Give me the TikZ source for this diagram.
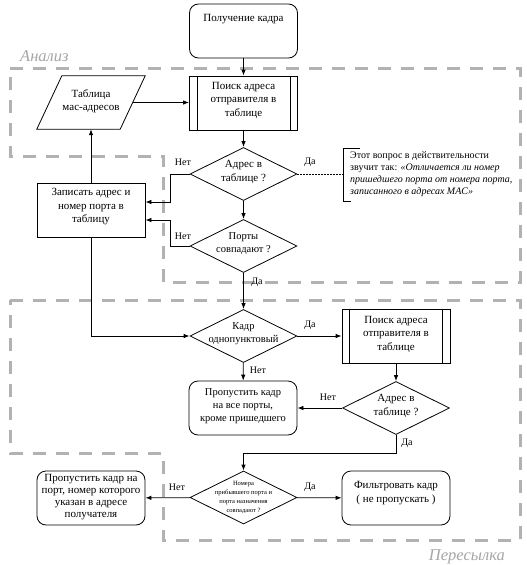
\documentclass[tikz,border=0pt]{standalone}
\usepackage{fontspec}
\setmainfont{Liberation Serif}
\usetikzlibrary{shapes.geometric,arrows.meta}
\tikzset{
 base/.style={draw, line width=0.8pt, minimum width=108pt, minimum height=54pt, inner sep=0pt, fill=white},
 rbox/.style={base, rounded corners=9pt},
 pbox/.style={base},
 dia/.style={draw, diamond, line width=0.8pt, minimum width=107pt, minimum height=53pt, inner sep=0pt, fill=white},
 txt/.style={font=\fontsize{11}{13.5}\selectfont, align=center, inner sep=0pt},
 midtxt/.style={font=\fontsize{10.5}{13}\selectfont, align=center, inner sep=0pt},
 smalltxt/.style={font=\fontsize{6.5}{9}\selectfont, align=center, inner sep=0pt},
 bigtxt/.style={font=\fontsize{11}{12}\selectfont, align=center, inner sep=0pt},
 notetxt/.style={font=\fontsize{10}{12}\selectfont, align=left, inner sep=0pt, anchor=north west},
 lab/.style={font=\fontsize{10}{12}\selectfont, inner sep=0pt},
 conn/.style={line width=0.8pt, -{Latex[length=6pt,width=4.5pt]}},
 region/.style={draw=gray!60, line width=3pt, dash pattern=on 13pt off 10pt},
 regionlab/.style={font=\fontsize{16.5}{16}\selectfont\itshape, text=gray!70, inner sep=0pt}
}
\begin{document}
\begin{tikzpicture}[x=1pt,y=-1pt]
\useasboundingbox[fill=white] (0,0) rectangle (527,565);
% regions
\draw[region] (10,68) -- (520,68) -- (520,282) -- (163,282) -- (163,156) -- (10,156) -- cycle;
\draw[region] (10,300) -- (520,300) -- (520,540) -- (163,540) -- (163,453) -- (10,453) -- cycle;
\node[regionlab, anchor=west] (lanal) at (20,56) {Анализ};
\node[regionlab, anchor=east] (lpers) at (505,557) {Пересылка};
% nodes
\node[rbox] (get) at (243.5,31) {};
\node[txt] (gettxt) at (243.5,19) {Получение кадра};
\node[pbox] (proc1) at (243.5,103) {};
\node[txt] (proc1txt) at (243.5,100) {Поиск адреса\\отправителя в\\таблице};
\node[minimum width=108pt, minimum height=53pt, inner sep=0pt] (tab) at (91,102.5) {};
\draw[line width=0.8pt, fill=white] (tab.south west) -- ([xshift=25pt]tab.north west) -- (tab.north east) -- ([xshift=-25pt]tab.south east) -- cycle;
\node[txt] (tabtxt) at (91,101) {Таблица\\мас-адресов};
\node[dia] (d1) at (243.5,174) {};
\node[txt] (d1txt) at (243.5,172) {Адрес в\\таблице ?};
\node[dia] (d2) at (243.5,246) {};
\node[midtxt] (d2txt) at (243.5,244) {Порты\\совпадают ?};
\node[base] (zap) at (91,210) {};
\node[txt] (zaptxt) at (91,207) {Записать адрес и\\номер порта в\\таблицу};
\node[dia] (d3) at (243.5,336) {};
\node[midtxt] (d3txt) at (243.5,334) {Кадр\\однопунктовый};
\node[pbox] (proc2) at (396,336) {};
\node[txt] (proc2txt) at (396,334) {Поиск адреса\\отправителя в\\таблице};
\node[dia] (d4) at (396,408) {};
\node[txt] (d4txt) at (396,406) {Адрес в\\таблице ?};
\node[rbox] (skip1) at (243,408) {};
\node[midtxt] (skip1txt) at (243,406) {Пропустить кадр\\на все порты,\\кроме пришедшего};
\node[dia] (d5) at (243.5,497.5) {};
\node[smalltxt] (d5txt) at (243.5,497) {Номера\\прибывшего порта и\\порта назначения\\совпадают ?};
\node[rbox] (skip2) at (91,498) {};
\node[bigtxt] (skip2txt) at (91,497) {Пропустить кадр на\\порт, номер которого\\указан в адресе\\получателя};
\node[rbox] (filt) at (396,498) {};
\node[txt] (filttxt) at (396,493) {Фильтровать кадр\\( не пропускать )};
% note
\coordinate (brk) at (343,174);
\draw[line width=0.8pt] (360,148) -- (343,148) -- (343,201) -- (351,201);
\node[notetxt] (note) at (350,151) {Этот вопрос в действительности\\звучит так: \textit{«Отличается ли номер}\\\textit{пришедшего порта от номера порта,}\\\textit{записанного в адресах MAC»}};
\draw[line width=0.8pt, dash pattern=on 1.5pt off 1.5pt] (d1.east) -- (brk);
% process box inner lines
\foreach \p in {proc1,proc2}{
 \draw[line width=0.8pt] ([xshift=8pt]\p.north west) -- ([xshift=8pt]\p.south west);
 \draw[line width=0.8pt] ([xshift=-8pt]\p.north east) -- ([xshift=-8pt]\p.south east);
}
% connectors
\draw[conn] (get) -- (proc1);
\draw[conn] ([xshift=-12.5pt]tab.east) -- (proc1.west |- tab.east);
\draw[conn] (proc1) -- (d1);
\draw[conn] (d1.west) -- ++(-19,0) |- ([yshift=8pt]zap.east);
\draw[conn] (d1) -- (d2);
\draw[conn] (d2.west) -- ++(-19,0) |- ([yshift=-10pt]zap.east);
\draw[conn] (d2) -- (d3);
\draw[conn] (zap) -- (tab);
\draw[conn] (zap.south) |- (d3.west);
\draw[conn] (d3) -- (proc2);
\draw[conn] (d3) -- (skip1);
\draw[conn] (proc2) -- (d4);
\draw[conn] (d4) -- (skip1);
\draw[conn] (d4.south) -- ++(0,18) -| (d5.north);
\draw[conn] (d5) -- (skip2);
\draw[conn] (d5) -- (filt);
% labels
\node[lab] (l1) at (183,162) {Нет};
\node[lab] (l2) at (310,162) {Да};
\node[lab] (l3) at (183,236) {Нет};
\node[lab] (l4) at (257,282) {Да};
\node[lab] (l5) at (310,325) {Да};
\node[lab] (l6) at (258,370) {Нет};
\node[lab] (l7) at (328,397) {Нет};
\node[lab] (l8) at (407,443) {Да};
\node[lab] (l9) at (177,487) {Нет};
\node[lab] (l10) at (310,487) {Да};
\end{tikzpicture}
\end{document}
